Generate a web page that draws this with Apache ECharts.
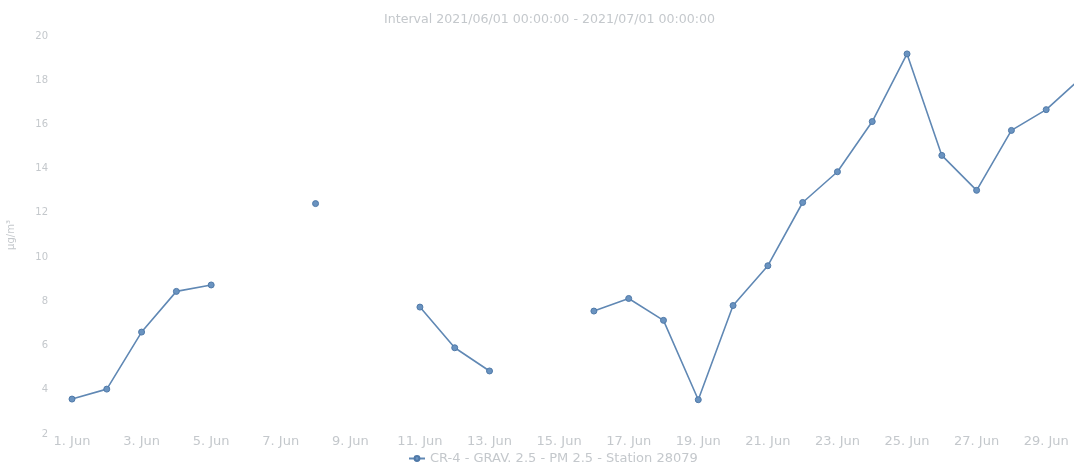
<!DOCTYPE html>
<html>
<head>
<meta charset="utf-8">
<script src="https://cdn.jsdelivr.net/npm/echarts@6/dist/echarts.min.js"></script>
<style>html,body{margin:0;padding:0;background:#fff;overflow:hidden}#c{width:1074px;height:468px}</style>
</head>
<body>
<div id="c"></div>
<script>
const days = ['1. Jun','2. Jun','3. Jun','4. Jun','5. Jun','6. Jun','7. Jun','8. Jun','9. Jun','10. Jun',
  '11. Jun','12. Jun','13. Jun','14. Jun','15. Jun','16. Jun','17. Jun','18. Jun','19. Jun','20. Jun',
  '21. Jun','22. Jun','23. Jun','24. Jun','25. Jun','26. Jun','27. Jun','28. Jun','29. Jun','30. Jun'];
const pm25 = [3.58, 4.03, 6.61, 8.45, 8.74, null, null, 12.42, null, null,
  7.74, 5.90, 4.85, null, null, 7.56, 8.13, 7.14, 3.55, 7.81,
  9.61, 12.47, 13.86, 16.13, 19.19, 14.60, 13.02, 15.73, 16.67, 18.1];
const yTicks = [2, 20, 2]; // min, max, interval
const titleText = 'Interval 2021/06/01 00:00:00 - 2021/07/01 00:00:00';
const seriesName = 'CR-4 - GRAV. 2.5 - PM 2.5 - Station 28079';
const yName = 'µg/m³';

const chart = echarts.init(document.getElementById('c'));
const txt = '#c4c8cc';
const ff = 'DejaVu Sans';
chart.setOption({
  animation: false,
  title: {
    text: titleText, left: 379, top: 8,
    textStyle: { color: txt, fontSize: 12.6, fontWeight: 'normal', fontFamily: ff }
  },
  legend: {
    data: [seriesName], bottom: -2, left: 403, itemWidth: 16, itemHeight: 6, itemGap: 4,
    textStyle: { color: txt, fontSize: 13, fontFamily: ff }
  },
  grid: { left: 72, width: 1009, top: 36, bottom: 34, containLabel: false, outerBoundsMode: 'none' },
  xAxis: {
    type: 'category', data: days, boundaryGap: false,
    axisLine: { show: false }, axisTick: { show: false },
    axisLabel: { interval: 1, color: txt, fontSize: 13, margin: 1, fontFamily: ff }
  },
  yAxis: {
    type: 'value', min: yTicks[0], max: yTicks[1], interval: yTicks[2],
    name: yName, nameLocation: 'middle', nameGap: 56, nameRotate: 90,
    nameTextStyle: { color: txt, fontSize: 10, fontFamily: ff },
    axisLine: { show: false }, axisTick: { show: false }, splitLine: { show: false },
    axisLabel: { color: txt, fontSize: 10, margin: 24, fontFamily: ff }
  },
  series: [{
    name: seriesName, type: 'line', data: pm25, connectNulls: false,
    showAllSymbol: true, symbol: 'circle', symbolSize: 6,
    lineStyle: { color: '#6088b4', width: 1.6 },
    itemStyle: { color: '#6a93c0', borderColor: '#4f79a8', borderWidth: 1 }
  }]
});
</script>
</body>
</html>
